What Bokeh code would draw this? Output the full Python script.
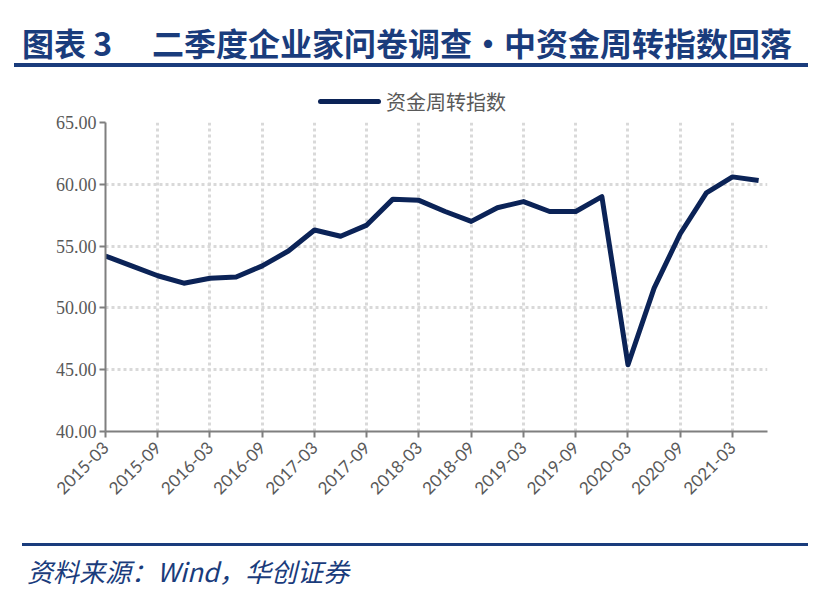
import math
from bokeh.plotting import figure
from bokeh.layouts import column
from bokeh.models import Div, FixedTicker, Range1d, PrintfTickFormatter
from bokeh.embed import file_html
from bokeh.resources import INLINE

# ---- data ----
quarters = ["2015-03", "2015-06", "2015-09", "2015-12", "2016-03", "2016-06",
            "2016-09", "2016-12", "2017-03", "2017-06", "2017-09", "2017-12",
            "2018-03", "2018-06", "2018-09", "2018-12", "2019-03", "2019-06",
            "2019-09", "2019-12", "2020-03", "2020-06", "2020-09", "2020-12",
            "2021-03", "2021-06"]
values = [54.2, 53.4, 52.6, 52.0, 52.4, 52.5, 53.4, 54.6, 56.3, 55.8, 56.7, 58.8,
          58.7, 57.8, 57.0, 58.1, 58.6, 57.8, 57.8, 59.0, 45.4, 51.6, 56.0, 59.3,
          60.6, 60.3]
series_name = "资金周转指数"
y_ticks = [40, 45, 50, 55, 60, 65]
x_tick_labels = quarters[::2]
title_left = "图表 3"
title_right = "二季度企业家问卷调查·中资金周转指数回落"
source_text = "资料来源：Wind，华创证券"

W = 814
HH, MH, FH = 114, 416, 60             # header(+legend) / chart / footer heights
FL, FR, FT, FB = 105, 767, 122, 431   # frame edges in page pixels
NAVY = "#0B2357"
BLUE = "#1A3C7C"
GRAY = "#595959"

# ---- header with title, rule and legend key ----
head = Div(width=W, height=HH, margin=0, text=f"""
<div style="position:relative;width:{W}px;height:{HH}px;">
  <span style="position:absolute;left:22px;top:26px;line-height:32px;white-space:nowrap;
    font-family:'Noto Sans CJK SC';font-weight:bold;font-size:32px;color:{BLUE};">{title_left}</span>
  <span style="position:absolute;left:152px;top:26px;line-height:32px;white-space:nowrap;
    font-family:'Noto Sans CJK SC';font-weight:bold;font-size:32px;color:{BLUE};">{title_right}</span>
  <div style="position:absolute;left:14px;top:63px;width:794px;height:4px;background:{BLUE};"></div>
  <div style="position:absolute;left:318px;top:99px;width:63px;height:5px;border-radius:2.5px;background:{NAVY};"></div>
  <span style="position:absolute;left:386px;top:91px;line-height:22px;white-space:nowrap;
    font-family:'Noto Sans CJK SC';font-size:20px;color:{GRAY};">{series_name}</span>
</div>""")

# ---- chart ----
xs = list(range(len(quarters)))
p = figure(width=W, height=MH, output_backend="svg", toolbar_location=None,
           x_range=Range1d(0, 25.34), y_range=Range1d(40, 65),
           min_border_left=FL, min_border_right=W - FR, min_border_top=FT - HH,
           min_border_bottom=MH - (FB - HH), margin=0)
p.outline_line_color = None

p.line(xs, values, line_color=NAVY, line_width=5, line_join="round",
       legend_label=series_name)
p.legend.visible = False

p.xaxis.ticker = FixedTicker(ticks=xs[::2])
p.xaxis.major_label_overrides = {i: lab for i, lab in zip(xs[::2], x_tick_labels)}
p.xaxis.major_label_orientation = math.pi / 4
p.xaxis.major_label_text_font = "Lato"
p.xaxis.major_label_text_font_size = "17px"
p.xaxis.major_label_text_color = GRAY
p.xaxis.major_label_standoff = 7

p.yaxis.ticker = FixedTicker(ticks=y_ticks)
p.yaxis.formatter = PrintfTickFormatter(format="%.2f")
p.yaxis.major_label_text_font = "Liberation Serif"
p.yaxis.major_label_text_font_size = "18px"
p.yaxis.major_label_text_color = GRAY
p.yaxis.major_label_standoff = 3

for ax in (p.xaxis, p.yaxis):
    ax.axis_line_color = "#7F7F7F"
    ax.axis_line_width = 2
    ax.major_tick_line_color = "#7F7F7F"
    ax.major_tick_line_width = 2
    ax.major_tick_in = 0
    ax.major_tick_out = 6
    ax.minor_tick_line_color = None

for g in (p.xgrid, p.ygrid):
    g.grid_line_color = "#D9D9D9"
    g.grid_line_width = 3
    g.grid_line_dash = "3 3"
p.xgrid.ticker = FixedTicker(ticks=xs[::2])
p.ygrid.ticker = FixedTicker(ticks=y_ticks)

# ---- footer ----
foot = Div(width=W, height=FH, margin=0, text=f"""
<div style="position:relative;width:{W}px;height:{FH}px;">
  <div style="position:absolute;left:22px;top:13px;width:786px;height:3px;background:{BLUE};"></div>
  <span style="position:absolute;left:27px;top:27px;line-height:28px;white-space:nowrap;
    font-family:'Noto Sans CJK SC';font-style:italic;font-size:26px;color:{BLUE};">{source_text}</span>
</div>""")

layout = column(head, p, foot, spacing=0, margin=0)
open("out.html", "w").write(file_html(layout, INLINE))
